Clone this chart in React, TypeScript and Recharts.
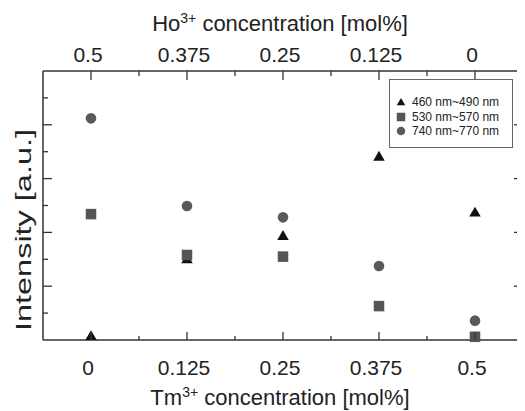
import React from 'react';
import { ScatterChart, Scatter, XAxis, YAxis, Legend } from 'recharts';

const tmValues = [0, 0.125, 0.25, 0.375, 0.5];
const intensity460 = [0.12, 2.98, 3.84, 6.79, 4.71];
const intensity530 = [4.68, 3.16, 3.1, 1.26, 0.12];
const intensity740 = [8.24, 4.98, 4.56, 2.75, 0.72];

const xMinorTicks = [0, 0.0625, 0.125, 0.1875, 0.25, 0.3125, 0.375, 0.4375, 0.5];
const xMajorTicks = [0, 0.125, 0.25, 0.375, 0.5];
const tmLabels = ['0', '0.125', '0.25', '0.375', '0.5'];
const hoLabels = ['0.5', '0.375', '0.25', '0.125', '0'];
const yTicks = [1, 2, 3, 4, 5, 6, 7, 8, 9];
const yMajorTicks = [2, 4, 6, 8];

const series = [
  { name: '460 nm~490 nm', values: intensity460, color: '#111111', shape: 'triangle' },
  { name: '530 nm~570 nm', values: intensity530, color: '#555555', shape: 'square' },
  { name: '740 nm~770 nm', values: intensity740, color: '#5a5a5a', shape: 'circle' },
];

const FONT = '"Liberation Sans", Arial, Helvetica, sans-serif';
const W = 517;
const H = 403;
const PL = 35;
const PR = 515;
const PT = 63;
const PB = 332;
const AX = '#333333';

const Marker = ({ shape, cx, cy, s, fill }: any) => {
  if (shape === 'triangle') {
    const h = s * 0.866;
    return (
      <path
        d={`M${cx},${cy - (2 * h) / 3} L${cx + s / 2},${cy + h / 3} L${cx - s / 2},${cy + h / 3} Z`}
        fill={fill}
      />
    );
  }
  if (shape === 'square') {
    return <rect x={cx - s / 2} y={cy - s / 2} width={s} height={s} fill={fill} />;
  }
  return <circle cx={cx} cy={cy} r={s / 2} fill={fill} />;
};

const isMajorX = (v: number) => xMajorTicks.some((m) => Math.abs(m - v) < 1e-9);

const BottomTick = (props: any) => {
  const { x, payload } = props;
  const v = payload.value;
  const major = isMajorX(v);
  const idx = xMajorTicks.findIndex((m) => Math.abs(m - v) < 1e-9);
  return (
    <g>
      <line x1={x} x2={x} y1={PB} y2={PB - (major ? 8 : 4)} stroke={AX} strokeWidth={1.3} />
      {major && (
        <text x={x - 3} y={367} textAnchor="middle" fontSize={21} fontFamily={FONT} fill="#222">
          {tmLabels[idx]}
        </text>
      )}
    </g>
  );
};

const TopTick = (props: any) => {
  const { x, payload } = props;
  const v = payload.value;
  const major = isMajorX(v);
  const idx = xMajorTicks.findIndex((m) => Math.abs(m - v) < 1e-9);
  return (
    <g>
      <line x1={x} x2={x} y1={PT} y2={PT + (major ? 9 : 5)} stroke={AX} strokeWidth={1.3} />
      {major && (
        <text x={x - 3} y={54} textAnchor="middle" fontSize={21} fontFamily={FONT} fill="#222">
          {hoLabels[idx]}
        </text>
      )}
    </g>
  );
};

const LeftTick = (props: any) => {
  const { y, payload } = props;
  const major = yMajorTicks.includes(payload.value);
  return <line x1={PL} x2={PL + (major ? 9 : 5)} y1={y} y2={y} stroke={AX} strokeWidth={1.3} />;
};

const RightTick = (props: any) => {
  const { y, payload } = props;
  const major = yMajorTicks.includes(payload.value);
  return <line x1={PR} x2={PR - (major ? 9 : 5)} y1={y} y2={y} stroke={AX} strokeWidth={1.3} />;
};

const TopTitle = () => (
  <text x={272} y={23} textAnchor="middle" fontSize={22} fontFamily={FONT} fill="#222">
    Ho
    <tspan fontSize={14} dy={-8}>3+</tspan>
    <tspan dy={8}> concentration [mol%]</tspan>
  </text>
);

const BottomTitle = () => (
  <text x={272} y={397} textAnchor="middle" fontSize={22} fontFamily={FONT} fill="#222">
    Tm
    <tspan fontSize={14} dy={-8}>3+</tspan>
    <tspan dy={8}> concentration [mol%]</tspan>
  </text>
);

const YTitle = () => (
  <text
    x={22.5}
    y={222}
    transform="rotate(-90, 22.5, 222)"
    textAnchor="middle"
    fontSize={22}
    fontFamily={FONT}
    fill="#222"
    textLength={202}
    lengthAdjust="spacingAndGlyphs"
  >
    Intensity [a.u.]
  </text>
);

const renderLegend = () => (
  <div
    style={{
      width: 124,
      height: 69,
      boxSizing: 'border-box',
      border: '1px solid #666',
      background: '#fff',
      fontFamily: FONT,
      fontSize: 12,
      color: '#222',
      paddingTop: 15,
    }}
  >
    {series.map((s) => (
      <div key={s.name} style={{ display: 'flex', alignItems: 'center', height: 14.5, whiteSpace: 'nowrap' }}>
        <svg width={10} height={10} style={{ marginLeft: 6, marginRight: 6 }}>
          <Marker shape={s.shape} cx={5} cy={s.shape === 'triangle' ? 5.8 : 5} s={8.5} fill={s.color} />
        </svg>
        <span>{s.name}</span>
      </div>
    ))}
  </div>
);

export default function App() {
  const sizes: Record<string, number> = { triangle: 11.5, square: 10.5, circle: 10.6 };
  return (
    <ScatterChart width={W} height={H} margin={{ top: 0, right: 0, bottom: 0, left: 0 }} style={{ fontFamily: FONT }}>
      <XAxis
        xAxisId="bottom"
        dataKey="x"
        type="number"
        orientation="bottom"
        domain={[-0.0625, 0.5625]}
        ticks={xMinorTicks}
        interval={0}
        height={H - PB}
        tickLine={false}
        tick={<BottomTick />}
        axisLine={{ stroke: AX, strokeWidth: 1.5 }}
        label={<BottomTitle />}
      />
      <XAxis
        xAxisId="top"
        dataKey="x"
        type="number"
        orientation="top"
        domain={[-0.0625, 0.5625]}
        allowDataOverflow
        ticks={xMinorTicks}
        interval={0}
        height={PT}
        tickLine={false}
        tick={<TopTick />}
        axisLine={{ stroke: AX, strokeWidth: 1.5 }}
        label={<TopTitle />}
      />
      <YAxis
        yAxisId="left"
        dataKey="y"
        type="number"
        domain={[0, 10]}
        ticks={yTicks}
        interval={0}
        width={PL}
        tickLine={false}
        tick={<LeftTick />}
        axisLine={{ stroke: AX, strokeWidth: 1.5 }}
        label={<YTitle />}
      />
      <YAxis
        yAxisId="right"
        dataKey="y"
        orientation="right"
        type="number"
        domain={[0, 10]}
        allowDataOverflow
        ticks={yTicks}
        interval={0}
        width={W - PR}
        tickLine={false}
        tick={<RightTick />}
        axisLine={{ stroke: AX, strokeWidth: 1.5 }}
      />
      <Scatter
        name="frame"
        xAxisId="top"
        yAxisId="right"
        data={tmValues.map((t, i) => ({ x: t, y: intensity460[i] }))}
        fill="none"
        legendType="none"
        isAnimationActive={false}
        shape={() => <g />}
      />
      {series.map((s) => (
        <Scatter
          key={s.name}
          name={s.name}
          xAxisId="bottom"
          yAxisId="left"
          data={tmValues.map((t, i) => ({ x: t, y: s.values[i] }))}
          fill={s.color}
          isAnimationActive={false}
          shape={(p: any) => <Marker shape={s.shape} cx={p.cx} cy={p.cy} s={sizes[s.shape]} fill={s.color} />}
        />
      ))}
      <Legend
        layout="vertical"
        align="center"
        verticalAlign="middle"
        content={renderLegend}
        wrapperStyle={{ left: 381, top: 71, width: 124, height: 69 }}
      />
    </ScatterChart>
  );
}
